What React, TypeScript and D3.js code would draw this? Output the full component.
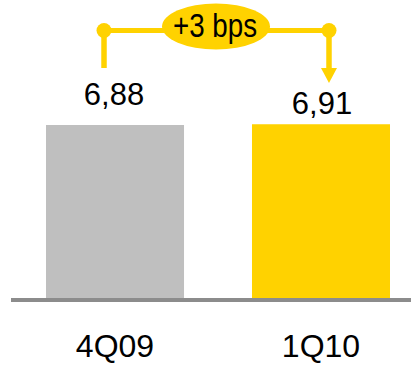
import React from "react";
import * as d3 from "d3";

const categories = ["4Q09", "1Q10"];
const values = [6.88, 6.91];
const valueLabels = ["6,88", "6,91"];
const deltaLabel = "+3 bps";
const barColors = ["#BFBFBF", "#FFD200"];

const W = 411;
const H = 369;
const YELLOW = "#FFD200";

export default function App() {
  const x = d3.scaleBand<string>().domain(categories).range([46, 390]).paddingInner(0.33).paddingOuter(0);
  const y = d3.scaleLinear().domain([0, 6.88]).range([298, 125]);
  const bw = x.bandwidth();
  const cx = (c: string) => (x(c) as number) + bw / 2;

  const lx = cx(categories[0]) - 11;
  const rx = cx(categories[1]) + 8;
  const by = 30.5;

  return (
    <svg width={W} height={H} style={{ position: "absolute", left: 0, top: 0 }} fontFamily="'Liberation Sans', Arial, sans-serif">
      <rect x={0} y={0} width={W} height={H} fill="#fff" />
      {categories.map((c, i) => (
        <g key={c}>
          <rect x={x(c)} y={y(values[i])} width={bw} height={y(0) - y(values[i])} fill={barColors[i]} />
          <text x={cx(c) - (i === 0 ? 1 : -1)} y={i === 0 ? 105 : 114} textAnchor="middle" fontSize={31} fill="#000">
            {valueLabels[i]}
          </text>
          <text x={cx(c)} y={357} textAnchor="middle" fontSize={32} fill="#000">
            {c}
          </text>
        </g>
      ))}
      <rect x={11} y={298} width={400} height={4} fill="#8C8C8C" />
      {/* bracket */}
      <line x1={lx} y1={by} x2={rx} y2={by} stroke={YELLOW} strokeWidth={5} />
      <line x1={lx} y1={by} x2={lx} y2={68} stroke={YELLOW} strokeWidth={5.5} />
      <line x1={rx} y1={by} x2={rx} y2={70} stroke={YELLOW} strokeWidth={5.5} />
      <path d={`M${rx - 8},68 L${rx + 8},68 L${rx},83 Z`} fill={YELLOW} />
      <circle cx={lx} cy={by} r={7.5} fill={YELLOW} />
      <circle cx={rx} cy={by} r={7.5} fill={YELLOW} />
      <ellipse cx={216} cy={26.5} rx={54} ry={23} fill={YELLOW} />
      <text x={215} y={37} textAnchor="middle" fontSize={33} textLength={84} lengthAdjust="spacingAndGlyphs" fill="#000">
        {deltaLabel}
      </text>
    </svg>
  );
}
